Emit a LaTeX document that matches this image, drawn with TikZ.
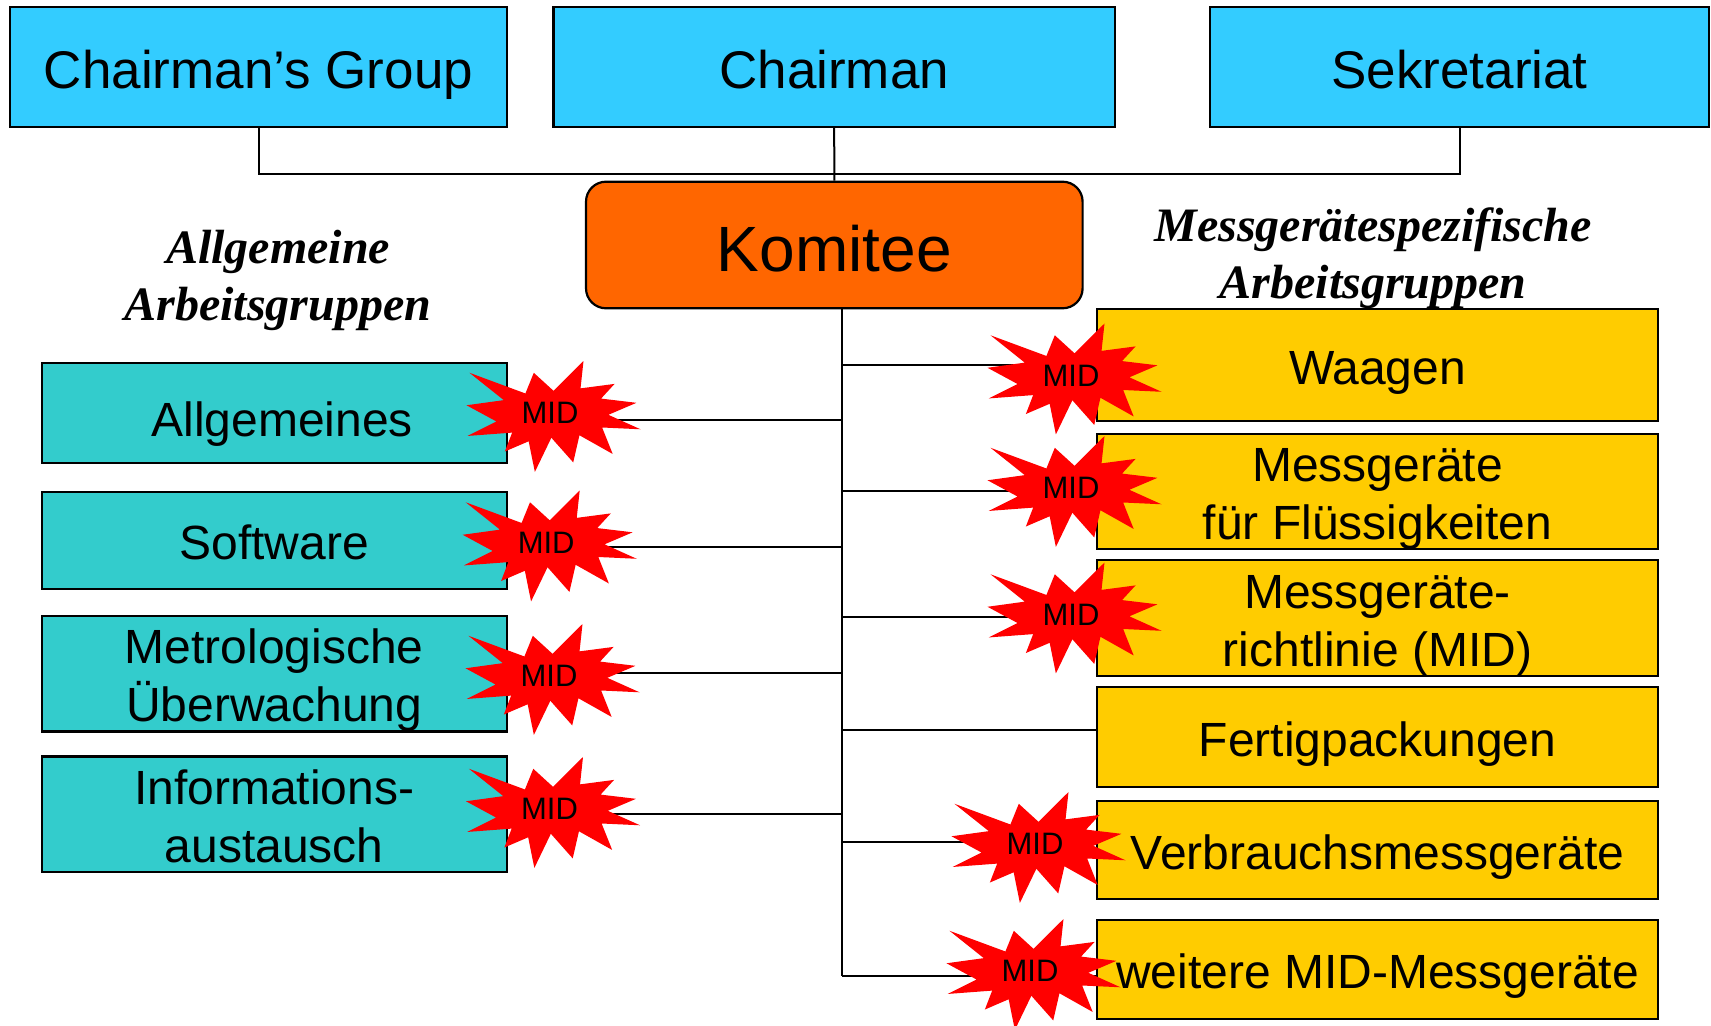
\documentclass[tikz,border=0pt]{standalone}
\usepackage{fontspec}
\setmainfont{Liberation Sans}
\newfontfamily\headfont{Liberation Serif}
\usepackage{tikz}
\definecolor{topblue}{HTML}{33CCFF}
\definecolor{genteal}{HTML}{33CCCC}
\definecolor{devgold}{HTML}{FFCC00}
\definecolor{komorange}{HTML}{FF6600}
\definecolor{midred}{HTML}{FF0000}
\tikzset{
  topbox/.style={draw, line width=1.1pt, fill=topblue, inner sep=0pt, minimum height=60pt, text height=26.5pt, text depth=5pt, font=\fontsize{26.5}{30}\selectfont},
  genbox/.style={draw, line width=1.1pt, fill=genteal, inner sep=0pt, minimum width=232.5pt, align=center, text height=24pt, text depth=4.8pt, font=\fontsize{24}{29}\selectfont},
  devbox/.style={draw, line width=1.1pt, fill=devgold, inner sep=0pt, minimum width=280.5pt, align=center, text height=24pt, text depth=4.8pt, font=\fontsize{24}{29}\selectfont},
  twoline/.style={text height=53pt},
  komitee/.style={draw, line width=1.1pt, fill=komorange, rounded corners=10pt, minimum width=248.3pt, minimum height=63.3pt, text height=32pt, text depth=5.4pt, font=\fontsize{32}{36}\selectfont},
  heading/.style={align=center, font=\headfont\bfseries\itshape\fontsize{24}{28.5}\selectfont},
  midlbl/.style={inner sep=0pt, font=\fontsize{15.5}{18}\selectfont},
  link/.style={line width=1pt},
  burst/.pic={
    \fill[midred, x=0.4028pt, y=-0.2569pt, xshift=-41.75pt, yshift=26pt]
      (108,58) -- (145.22,0) -- (141.55,53.25) -- (183.8,44.57) -- (167.02,73.15)
      -- (210.97,81.37) -- (176.07,104.75) -- (216,132.9) -- (168.37,129.42)
      -- (181.45,180.95) -- (140.2,144.57) -- (132.47,197.37) -- (105.32,149.35)
      -- (84.85,216) -- (77.15,156.27) -- (47.62,176.17) -- (56.67,139.37)
      -- (1.35,145.87) -- (37.22,117.75) -- (0,86.15) -- (46.27,76.17)
      -- (3.7,22.95) -- (73.12,63.2) -- (83.52,22.95) -- cycle;
  }
}
\begin{document}
\begin{tikzpicture}[x=0.5pt, y=-0.5pt]
\useasboundingbox (0,0) rectangle (1711,1026);
\node[topbox, minimum width=248.5pt] (cg) at (258.5,66.8) {Chairman’s Group};
\node[topbox, minimum width=280.8pt] (chair) at (834.2,66.8) {Chairman};
\node[topbox, minimum width=249.5pt] (sek) at (1459.5,66.8) {Sekretariat};
\node[komitee] (kom) at (834.3,245) {Komitee};
\node[heading] (hgen) at (278,280) {Allgemeine\\Arbeitsgruppen};
\node[heading] (hdev) at (1373,258) {Messgerätespezifische\\Arbeitsgruppen};

\node[genbox, minimum height=50pt, text height=28.4pt] (allg) at (274.2,413) {\hspace*{8pt}Allgemeines};
\node[genbox, minimum height=48.8pt] (soft) at (274.2,540.5) {Software};
\node[genbox, twoline, minimum height=56.3pt] (metro) at (274.2,673.7) {Metrologische\\Überwachung};
\node[genbox, twoline, minimum height=55.8pt] (info) at (274.2,814.2) {Informations-\\austausch};

\node[devbox, minimum height=55.8pt] (waag) at (1377.5,364.9) {Waagen};
\node[devbox, twoline, minimum height=56.3pt] (fluess) at (1377.5,491.4) {Messgeräte\\für Flüssigkeiten};
\node[devbox, twoline, minimum height=56.2pt] (richt) at (1377.5,617.9) {Messgeräte-\\richtlinie (MID)};
\node[devbox, minimum height=49.7pt] (fertig) at (1377.5,737) {Fertigpackungen};
\node[devbox, minimum height=49.2pt] (verbr) at (1377.5,849.9) {Verbrauchsmessgeräte};
\node[devbox, minimum height=49.5pt] (weit) at (1377.5,969.5) {weitere MID-Messgeräte};

\coordinate (bar) at (0,174);
\draw[link] (cg.south) -- (cg.south |- bar) -- (sek.south |- bar) -- (sek.south);
\draw[link] (chair.south) -- (kom.north);

\coordinate (j1) at (842,420);
\coordinate (j2) at (842,547.3);
\coordinate (j3) at (842,673.3);
\coordinate (j4) at (842,814.3);
\coordinate (r1) at (842,365);
\coordinate (r2) at (842,490.7);
\coordinate (r3) at (842,617.3);
\coordinate (r4) at (842,730);
\coordinate (r5) at (842,842.3);
\coordinate (r6) at (842,976);
\draw[link] (kom.south -| r6) -- (r6);
\draw[link] (j1) -- (j1 -| allg.east);
\draw[link] (j2) -- (j2 -| soft.east);
\draw[link] (j3) -- (j3 -| metro.east);
\draw[link] (j4) -- (j4 -| info.east);
\draw[link] (r1) -- (r1 -| waag.west);
\draw[link] (r2) -- (r2 -| fluess.west);
\draw[link] (r3) -- (r3 -| richt.west);
\draw[link] (r4) -- (r4 -| fertig.west);
\draw[link] (r5) -- (r5 -| verbr.west);
\draw[link] (r6) -- (r6 -| weit.west);

\foreach \n/\x/\y in {s1/550/413, s2/546.2/542.5, s3/549/676, s4/549.5/809,
    s5/1071/375.5, s6/1071/488, s7/1071/614.5, s8/1035/844, s9/1030/971}{
  \pic at (\x,\y) {burst};
  \node[midlbl] (\n) at (\x,\y) {MID};
}
\end{tikzpicture}
\end{document}
